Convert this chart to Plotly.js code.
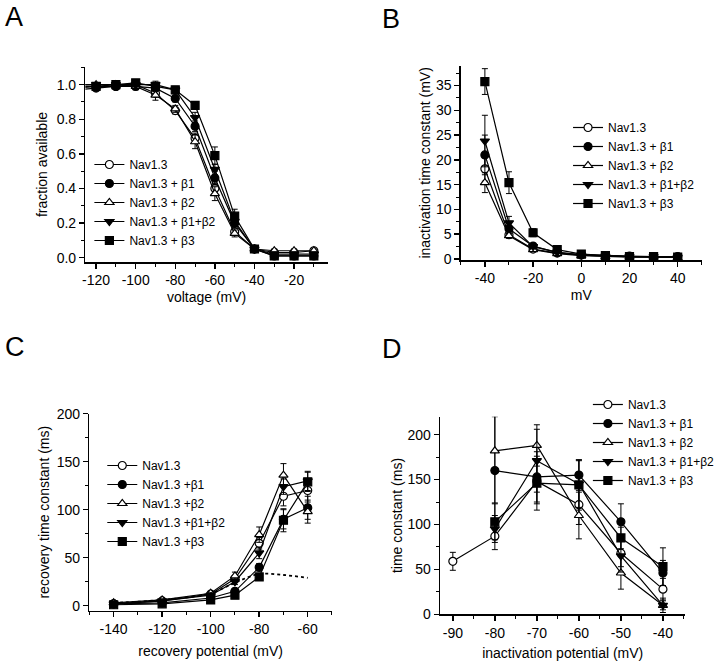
<!DOCTYPE html>
<html><head><meta charset="utf-8">
<script src="https://cdn.plot.ly/plotly-3.0.1.min.js"></script>
<style>html,body{margin:0;padding:0;background:#fff;}#chart{width:720px;height:662px;}</style>
</head><body><div id="chart"></div>
<script>
// ---------- data ----------
const seriesNames = ["Nav1.3", "Nav1.3 + β1", "Nav1.3 + β2", "Nav1.3 + β1+β2", "Nav1.3 + β3"];
const seriesNamesC = ["Nav1.3", "Nav1.3 +β1", "Nav1.3 +β2", "Nav1.3 +β1+β2", "Nav1.3 +β3"];

// tick labels (hyphen minus as in the figure)
const tickValsA = [-120, -100, -80, -60, -40, -20];
const tickTextA = ["-120", "-100", "-80", "-60", "-40", "-20"];
const tickValsB = [-40, -20, 0, 20, 40];
const tickTextB = ["-40", "-20", "0", "20", "40"];
const tickValsC = [-140, -120, -100, -80, -60];
const tickTextC = ["-140", "-120", "-100", "-80", "-60"];
const tickValsD = [-90, -80, -70, -60, -50, -40];
const tickTextD = ["-90", "-80", "-70", "-60", "-50", "-40"];

// Panel A: steady-state inactivation
const voltageA = [-130, -120, -110, -100, -90, -80, -70, -60, -50, -40, -30, -20, -10];
const availNav = [0.99, 0.99, 0.99, 1.00, 0.95, 0.85, 0.69, 0.40, 0.15, 0.05, 0.03, 0.03, 0.04];
const availB1  = [0.97, 0.98, 0.99, 0.99, 0.98, 0.92, 0.76, 0.46, 0.20, 0.05, 0.01, 0.01, 0.01];
const availB2  = [1.00, 1.00, 1.00, 0.99, 0.94, 0.86, 0.67, 0.37, 0.14, 0.05, 0.04, 0.04, 0.04];
const availB12 = [1.00, 1.00, 1.00, 1.00, 1.00, 0.97, 0.81, 0.51, 0.21, 0.05, 0.02, 0.02, 0.02];
const availB3  = [0.98, 0.99, 1.00, 1.01, 0.99, 0.97, 0.88, 0.59, 0.24, 0.05, 0.01, 0.01, 0.01];
const errANav = [0.02, 0.01, 0.01, 0.02, 0.02, 0.02, 0.03, 0.03, 0.02, 0.01, 0.01, 0.01, 0.01];
const errAB1  = [0.02, 0.01, 0.01, 0.01, 0.01, 0.02, 0.03, 0.04, 0.03, 0.01, 0.01, 0.01, 0.01];
const errAB2  = [0.01, 0.01, 0.01, 0.02, 0.03, 0.02, 0.04, 0.04, 0.02, 0.01, 0.01, 0.01, 0.01];
const errAB12 = [0.01, 0.01, 0.01, 0.01, 0.02, 0.02, 0.03, 0.03, 0.03, 0.01, 0.01, 0.01, 0.01];
const errAB3  = [0.01, 0.01, 0.01, 0.02, 0.01, 0.01, 0.02, 0.05, 0.04, 0.01, 0.01, 0.01, 0.01];

// Panel B: inactivation time constant
const voltageB = [-40, -30, -20, -10, 0, 10, 20, 30, 40];
const tauNav = [18.2, 4.9, 2.0, 1.2, 0.8, 0.6, 0.5, 0.4, 0.4];
const tauB1  = [21.0, 6.1, 2.6, 1.3, 0.9, 0.7, 0.6, 0.5, 0.5];
const tauB2  = [15.4, 4.7, 1.9, 1.1, 0.7, 0.5, 0.4, 0.4, 0.3];
const tauB12 = [23.8, 7.3, 2.5, 1.4, 0.8, 0.6, 0.5, 0.5, 0.4];
const tauB3  = [35.8, 15.4, 5.3, 1.9, 1.0, 0.7, 0.5, 0.5, 0.4];
const errBNav = [2.5, 0.6, 0.3, 0.2, 0.1, 0.1, 0.1, 0.1, 0.1];
const errBB1  = [4.0, 1.0, 0.4, 0.2, 0.1, 0.1, 0.1, 0.1, 0.1];
const errBB2  = [2.0, 0.5, 0.3, 0.2, 0.1, 0.1, 0.1, 0.1, 0.1];
const errBB12 = [5.2, 1.3, 0.4, 0.2, 0.1, 0.1, 0.1, 0.1, 0.1];
const errBB3  = [2.6, 2.2, 0.8, 0.3, 0.2, 0.1, 0.1, 0.1, 0.1];

// Panel C: recovery time constant
const voltageC = [-140, -120, -100, -90, -80, -70, -60];
const recNav = [2, 5, 12, 28, 65, 114, 120];
const recB1  = [2, 3, 8, 15, 40, 90, 102];
const recB2  = [3, 6, 13, 31, 74, 136, 98];
const recB12 = [2, 5, 11, 25, 55, 124, 130];
const recB3  = [1, 2, 6, 11, 30, 89, 129];
const errCNav = [1, 1, 2, 3, 6, 10, 12];
const errCB1  = [1, 1, 1, 3, 4, 10, 12];
const errCB2  = [1, 1, 2, 4, 8, 12, 12];
const errCB12 = [1, 1, 2, 3, 6, 8, 10];
const errCB3  = [1, 1, 1, 2, 3, 12, 10];
const fitVoltageC = [-140, -120, -100, -90, -80, -70, -60];
const fitRecC     = [3, 6, 13, 24, 33, 32, 29];

// Panel D: time constant vs inactivation potential
const voltageDNav = [-90, -80, -70, -60, -50, -40];
const voltageD    = [-80, -70, -60, -50, -40];
const tcNav = [59, 87, 148, 122, 68, 28];
const tcB1  = [160, 153, 155, 103, 46];
const tcB2  = [182, 188, 110, 46, 10];
const tcB12 = [95, 171, 145, 65, 10];
const tcB3  = [103, 146, 144, 85, 53];
const errDNav = [10, 15, 25, 22, 15, 12];
const errDB1  = [60, 28, 17, 20, 14];
const errDB2  = [58, 23, 26, 18, 8];
const errDB12 = [15, 35, 26, 18, 5];
const errDB3  = [20, 30, 28, 12, 21];

// ---------- styles ----------
const symbols = ["circle", "circle", "triangle-up", "triangle-down", "square"];
const fills   = ["white", "black", "white", "black", "black"];
const FONT = "Liberation Sans, Arial, sans-serif";

function mk(x, y, err, i, name, xa, ya, leg, clip) {
  return {
    type: "scatter", mode: "lines+markers", x: x, y: y, name: name,
    xaxis: xa, yaxis: ya, legend: leg, cliponaxis: clip,
    line: {color: "black", width: 1.2},
    marker: {symbol: symbols[i], size: 8, color: fills[i], line: {color: "black", width: 1.2}},
    error_y: {type: "data", array: err, visible: true, color: "black", thickness: 1, width: 3}
  };
}

const traces = [];
const aY = [availNav, availB1, availB2, availB12, availB3];
const aE = [errANav, errAB1, errAB2, errAB12, errAB3];
aY.forEach((y, i) => traces.push(mk(voltageA, y, aE[i], i, seriesNames[i], "x", "y", "legend", false)));
const bY = [tauNav, tauB1, tauB2, tauB12, tauB3];
const bE = [errBNav, errBB1, errBB2, errBB12, errBB3];
bY.forEach((y, i) => traces.push(mk(voltageB, y, bE[i], i, seriesNames[i], "x2", "y2", "legend2", true)));
const cY = [recNav, recB1, recB2, recB12, recB3];
const cE = [errCNav, errCB1, errCB2, errCB12, errCB3];
cY.forEach((y, i) => traces.push(mk(voltageC, y, cE[i], i, seriesNamesC[i], "x3", "y3", "legend3", true)));
traces.push({type: "scatter", mode: "lines", x: fitVoltageC, y: fitRecC, xaxis: "x3", yaxis: "y3",
  showlegend: false, line: {color: "black", width: 1.8, dash: "dot", shape: "spline"}});
const dY = [tcNav, tcB1, tcB2, tcB12, tcB3];
const dE = [errDNav, errDB1, errDB2, errDB12, errDB3];
dY.forEach((y, i) => traces.push(mk(i === 0 ? voltageDNav : voltageD, y, dE[i], i, seriesNames[i], "x4", "y4", "legend4", false)));

const W = 720, H = 662;
function dx(a, b) { return [a / W, b / W]; }
function dy(top, bottom) { return [1 - bottom / H, 1 - top / H]; }

function axis(extra) {
  return Object.assign({
    showline: true, linecolor: "black", linewidth: 1.5, mirror: false,
    ticks: "outside", ticklen: 5, tickwidth: 1.5, tickcolor: "black",
    showgrid: false, zeroline: false,
    tickfont: {family: FONT, size: 14, color: "black"},
  }, extra);
}
function minor(t0, d) { return {tickmode: "linear", tick0: t0, dtick: d, ticks: "outside", ticklen: 3, tickwidth: 1, tickcolor: "black", showgrid: false}; }
function ttl(t, s) { return {text: t, font: {family: FONT, size: 14, color: "black"}, standoff: s}; }
function leg(x, y) {
  return {x: x / W, y: 1 - y / H, xanchor: "left", yanchor: "top", bgcolor: "rgba(0,0,0,0)",
    font: {family: FONT, size: 12, color: "black"}, borderwidth: 0, tracegroupgap: 0};
}
function letter(t, x, y) {
  return {text: t, xref: "paper", yref: "paper", x: x / W, y: 1 - y / H, xanchor: "left", yanchor: "top",
    showarrow: false, font: {family: FONT, size: 27, color: "black"}};
}

const layout = {
  width: W, height: H, margin: {l: 0, r: 0, t: 0, b: 0},
  paper_bgcolor: "white", plot_bgcolor: "white", showlegend: true,
  xaxis:  axis({domain: dx(86, 330), anchor: "y", range: [-125.4, -3], tickmode: "array", tickvals: tickValsA, ticktext: tickTextA, minor: minor(-120, 10), title: ttl("voltage (mV)", 5)}),
  yaxis:  axis({domain: dy(67, 262), anchor: "x", range: [-0.025, 1.102], tick0: 0, dtick: 0.2, tickformat: ".1f", minor: minor(0, 0.1), title: ttl("fraction available", 5)}),
  xaxis2: axis({domain: dx(464, 706.7), anchor: "y2", range: [-50, 50], tickmode: "array", tickvals: tickValsB, ticktext: tickTextB, minor: minor(-40, 10), title: ttl("mV", 5)}),
  yaxis2: axis({domain: dy(65.7, 260), anchor: "x2", range: [-0.2, 39], tick0: 0, dtick: 5, minor: minor(0, 2.5), title: ttl("inactivation time constant (mV)", 2)}),
  xaxis3: axis({domain: dx(90, 334.3), anchor: "y3", range: [-150, -50], tickmode: "array", tickvals: tickValsC, ticktext: tickTextC, minor: minor(-140, 10), title: ttl("recovery potential (mV)", 10)}),
  yaxis3: axis({domain: dy(413.7, 610.7), anchor: "x3", range: [-5.2, 200], tick0: 0, dtick: 50, minor: minor(0, 25), title: ttl("recovery time constant (ms)", 4)}),
  xaxis4: axis({domain: dx(443.3, 690), anchor: "y4", range: [-93, -34.7], tickmode: "array", tickvals: tickValsD, ticktext: tickTextD, minor: minor(-90, 5), title: ttl("inactivation potential (mV)", 8)}),
  yaxis4: axis({domain: dy(416.7, 614.3), anchor: "x4", range: [0, 220], tick0: 0, dtick: 50, minor: minor(0, 25), title: ttl("time constant (ms)", 1)}),
  legend:  leg(90, 150),
  legend2: leg(572, 113),
  legend3: leg(103, 451),
  legend4: leg(592, 390),
  annotations: [letter("A", 3, 0), letter("B", 383, 2), letter("C", 3, 330), letter("D", 383, 332)]
};

Plotly.newPlot("chart", traces, layout, {displayModeBar: false, staticPlot: true});
</script></body></html>
